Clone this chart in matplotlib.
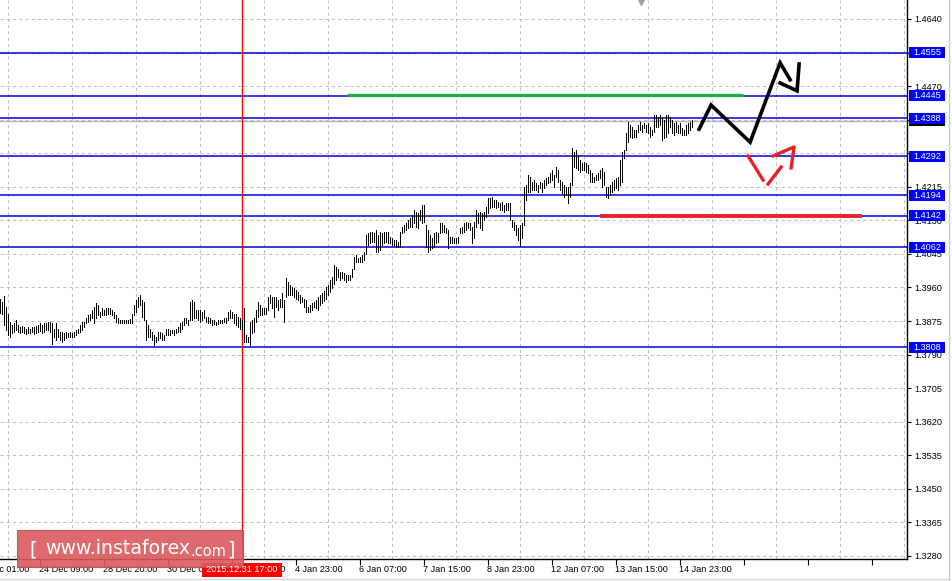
import numpy as np
import matplotlib
matplotlib.use("Agg")
import matplotlib.pyplot as plt
import matplotlib.transforms as mtransforms
from matplotlib.patches import Rectangle

# Bougies H1 : plus hauts / plus bas en pips (13930 -> 1.3930)
hauts = [
    13930, 13924, 13938, 13911, 13894, 13873, 13865, 13869, 13877, 13865,
    13860, 13862, 13859, 13856, 13859, 13856, 13860, 13859, 13862, 13865,
    13869, 13865, 13869, 13871, 13873, 13873, 13869, 13856, 13869, 13856,
    13848, 13848, 13844, 13848, 13844, 13848, 13844, 13848, 13852, 13856,
    13865, 13873, 13873, 13882, 13890, 13894, 13903, 13911, 13920, 13915,
    13898, 13907, 13903, 13907, 13907, 13907, 13903, 13898, 13890, 13882,
    13877, 13877, 13877, 13877, 13877, 13879, 13894, 13915, 13928, 13936,
    13941, 13928, 13924, 13877, 13865, 13856, 13848, 13839, 13835, 13848,
    13848, 13844, 13839, 13856, 13856, 13852, 13852, 13852, 13856, 13860,
    13869, 13873, 13882, 13882, 13877, 13924, 13928, 13924, 13903, 13903,
    13903, 13898, 13903, 13886, 13886, 13882, 13877, 13877, 13873, 13877,
    13877, 13877, 13882, 13882, 13898, 13903, 13898, 13894, 13894, 13886,
    13882, 13877, 13907, 13839, 13835, 13873, 13877, 13882, 13903, 13924,
    13915, 13907, 13907, 13907, 13936, 13941, 13936, 13936, 13936, 13928,
    13932, 13945, 13928, 13983, 13974, 13966, 13962, 13958, 13953, 13949,
    13941, 13936, 13932, 13928, 13911, 13915, 13920, 13924, 13928, 13936,
    13940, 13945, 13950, 13960, 13965,
    13979, 13987, 14017, 14012, 14008, 14000, 14000, 13996, 13991, 13991,
    13991, 14008, 14038, 14042, 14034, 14038, 14042, 14050, 14093, 14097,
    14101, 14101, 14097, 14105, 14093, 14101, 14097, 14101, 14101, 14101,
    14088, 14084, 14080, 14080, 14076, 14101, 14114, 14118, 14122, 14131,
    14135, 14143, 14156, 14152, 14148, 14156, 14169, 14169, 14118, 14105,
    14093, 14084, 14097, 14101, 14097, 14122, 14122, 14118, 14110, 14105,
    14088, 14088, 14084, 14084, 14088, 14110, 14114, 14122, 14126, 14122,
    14122, 14114, 14126, 14156, 14148, 14152, 14148, 14152, 14164, 14186,
    14186, 14190, 14181, 14181, 14177, 14173, 14177, 14169, 14173, 14173,
    14173,
    14131, 14127, 14118, 14110, 14118, 14123, 14215, 14220, 14245, 14241,
    14228, 14232, 14224, 14220, 14228, 14224, 14232, 14237, 14241, 14249,
    14258, 14245, 14266, 14258, 14232, 14228, 14220, 14215, 14215, 14224,
    14313, 14304, 14308, 14296, 14283, 14275, 14279, 14275, 14270, 14258,
    14249, 14241, 14245, 14249, 14258, 14262, 14253, 14215, 14215, 14220,
    14228, 14232, 14237, 14241, 14283, 14304, 14308, 14351, 14380, 14372,
    14367, 14359, 14359, 14372, 14380, 14372, 14376, 14372, 14376, 14367,
    14359, 14397, 14397, 14393, 14397, 14389, 14384, 14397, 14397, 14393,
    14384, 14376, 14380, 14372, 14376, 14363, 14359, 14372, 14376, 14380, 14384,
]
bas = [
    13896, 13894, 13865, 13852, 13839, 13835, 13844, 13848, 13852, 13848,
    13845, 13848, 13844, 13842, 13845, 13844, 13848, 13842, 13845, 13848,
    13850, 13844, 13848, 13852, 13852, 13848, 13818, 13835, 13827, 13835,
    13827, 13822, 13827, 13831, 13835, 13835, 13835, 13835, 13839, 13844,
    13848, 13852, 13860, 13869, 13873, 13877, 13882, 13869, 13882, 13890,
    13886, 13890, 13890, 13890, 13894, 13894, 13890, 13882, 13873, 13869,
    13869, 13869, 13869, 13869, 13869, 13869, 13869, 13890, 13898, 13911,
    13915, 13886, 13877, 13827, 13835, 13835, 13827, 13814, 13822, 13827,
    13831, 13827, 13827, 13839, 13839, 13839, 13844, 13839, 13844, 13848,
    13848, 13856, 13865, 13869, 13865, 13877, 13877, 13882, 13882, 13877,
    13873, 13877, 13882, 13873, 13869, 13869, 13865, 13867, 13865, 13867,
    13869, 13869, 13873, 13871, 13877, 13882, 13882, 13869, 13865, 13860,
    13856, 13852, 13822, 13822, 13822, 13814, 13844, 13848, 13873, 13886,
    13890, 13890, 13894, 13894, 13903, 13920, 13907, 13886, 13911, 13903,
    13911, 13911, 13873, 13936, 13941, 13941, 13941, 13936, 13932, 13928,
    13920, 13924, 13911, 13898, 13898, 13898, 13903, 13911, 13907, 13903,
    13915, 13920, 13925, 13930, 13940,
    13949, 13958, 13970, 13979, 13987, 13979, 13983, 13979, 13974, 13979,
    13979, 13987, 14008, 14025, 14025, 14025, 14025, 14029, 14046, 14067,
    14072, 14076, 14076, 14050, 14050, 14055, 14067, 14072, 14076, 14072,
    14072, 14067, 14067, 14063, 14063, 14063, 14097, 14101, 14105, 14110,
    14114, 14114, 14122, 14114, 14110, 14131, 14122, 14126, 14063, 14050,
    14055, 14059, 14063, 14072, 14076, 14097, 14101, 14101, 14097, 14059,
    14072, 14072, 14072, 14072, 14072, 14097, 14097, 14101, 14105, 14110,
    14105, 14072, 14084, 14114, 14122, 14110, 14105, 14131, 14139, 14148,
    14160, 14164, 14164, 14160, 14164, 14156, 14156, 14152, 14156, 14156,
    14131,
    14114, 14106, 14093, 14080, 14064, 14085, 14118, 14182, 14203, 14203,
    14207, 14207, 14207, 14203, 14211, 14203, 14211, 14220, 14224, 14228,
    14232, 14215, 14241, 14228, 14207, 14199, 14190, 14194, 14173, 14190,
    14220, 14266, 14262, 14258, 14253, 14258, 14258, 14253, 14249, 14228,
    14228, 14228, 14232, 14232, 14237, 14215, 14220, 14190, 14186, 14194,
    14203, 14207, 14211, 14207, 14220, 14228, 14287, 14308, 14329, 14342,
    14338, 14342, 14342, 14355, 14359, 14355, 14363, 14355, 14351, 14342,
    14346, 14355, 14367, 14367, 14372, 14334, 14338, 14342, 14351, 14367,
    14351, 14346, 14355, 14351, 14351, 14346, 14346, 14346, 14351, 14359, 14367,
]

# Niveaux (lignes bleues) et prix courant
niveaux = [1.4555, 1.4445, 1.4388, 1.4292, 1.4194, 1.4142, 1.4062, 1.3808]
prix_actuel = 1.4382

# Graduations (celles cachees sous les etiquettes bleues restent sans texte)
prix_ticks = ["1.3280", "1.3365", "1.3450", "1.3535", "1.3620", "1.3705",
              "1.3790", "1.3875", "1.3960", "1.4045", "1.4130", "1.4215",
              "1.4300", "1.4385", "1.4470", "1.4555", "1.4640"]
prix_caches = ["1.4300", "1.4385", "1.4555"]
dates_ticks = ["23 Dec 01:00", "24 Dec 09:00", "28 Dec 20:00", "30 Dec 04:00",
               "31 Dec 12:00", "4 Jan 23:00", "6 Jan 07:00", "7 Jan 15:00",
               "8 Jan 23:00", "12 Jan 07:00", "13 Jan 15:00", "14 Jan 23:00"]
date_curseur = "2015.12.31 17:00"
bougie_curseur = 121

# Traits dessines a la main : (indice de bougie, prix)
fleche_noire = [(349.4, 1.4361), (355.4, 1.4422), (374.9, 1.4328),
                (389.9, 1.4529), (394.9, 1.4486)]
pointe_noire = [(389.9, 1.4478), (398.4, 1.4458), (399.4, 1.4526)]
traits_rouges = [
    [(373.9, 1.4293), (381.4, 1.4232)],
    [(383.9, 1.4222), (390.4, 1.4265)],
    [(386.4, 1.4293), (396.9, 1.4316), (395.4, 1.4263)],
]
ligne_verte = ((173.4, 371.4), 1.4447)
ligne_rouge = ((299.9, 430.9), 1.4142)
marque_haut = (320.4, 1.4683)

# ---------------------------------------------------------------
W, H = 953, 581
fig = plt.figure(figsize=(W / 100, H / 100), dpi=100)
fig.patch.set_facecolor("white")
ax = fig.add_axes([0, 22 / H, 907 / W, 559 / H])
ax.set_xlim(-0.15, 453.35)
ax.set_ylim(1.32722, 1.46881)

police = "Liberation Sans"
fs = 6.6

# Grille
ax.set_yticks([float(p) for p in prix_ticks])
ax.set_yticklabels(["" if p in prix_caches else p for p in prix_ticks],
                   fontsize=fs, family=police)
ax.yaxis.tick_right()
ax.tick_params(axis="y", length=3, width=0.8, pad=2, colors="black")
ax.set_xticks(np.arange(4, 453, 16), minor=True)
ax.set_xticks(np.arange(20, 453, 32))
ax.set_xticklabels([])
ax.tick_params(axis="x", which="major", length=4, width=0.8)
ax.tick_params(axis="x", which="minor", length=0)
ax.grid(True, axis="y", which="major", color="#c0c0c0", lw=0.75, ls=(0, (3, 3)))
ax.grid(True, axis="x", which="minor", color="#c0c0c0", lw=0.75, ls=(0, (3, 3)))
for c in ["top", "left"]:
    ax.spines[c].set_visible(False)
for c in ["right", "bottom"]:
    ax.spines[c].set_linewidth(1.0)

# Dates (alignees a gauche sur le repere)
tr_x = mtransforms.blended_transform_factory(ax.transData, ax.transAxes)
for pos, lab in zip(np.arange(-12, 341, 32), dates_ticks):
    ax.text(pos - 0.5, -0.018, lab, transform=tr_x, ha="left", va="center",
            fontsize=fs, family=police, clip_on=False)

# Niveaux et prix courant
for niv in niveaux:
    ax.axhline(niv, color="#0000e0", lw=1.1, zorder=2)
ax.axhline(prix_actuel, color="#b4b4b4", lw=1.0, zorder=1.8)
ax.axvline(bougie_curseur, color="#ff0000", lw=1.0, zorder=2)

# Bougies
x = np.arange(len(hauts))
ax.vlines(x, np.array(bas) / 1e4, np.array(hauts) / 1e4, colors="black",
          lw=0.72, antialiased=False, zorder=3)

# Lignes verte / rouge
ax.plot(ligne_verte[0], [ligne_verte[1]] * 2, color="#1fae4c", lw=2.4,
        solid_capstyle="butt", zorder=4)
ax.plot(ligne_rouge[0], [ligne_rouge[1]] * 2, color="#e8202a", lw=2.8,
        solid_capstyle="butt", zorder=4)

# Fleches dessinees
for trait in [fleche_noire, pointe_noire]:
    xs, ys = zip(*trait)
    ax.plot(xs, ys, color="black", lw=2.6, zorder=5, solid_joinstyle="miter")
for trait in traits_rouges:
    xs, ys = zip(*trait)
    ax.plot(xs, ys, color="#e8202a", lw=2.4, zorder=5)
ax.plot(*marque_haut, marker="v", color="#a0a0a0", ms=5, clip_on=False, zorder=5)

# Etiquettes de prix sur l'echelle
tr_y = mtransforms.blended_transform_factory(fig.transFigure, ax.transData)
haut_boite = 11 / 3948
ax.add_patch(Rectangle((909 / W, prix_actuel - haut_boite / 2), 36 / W, haut_boite,
                       transform=tr_y, fc="black", ec="none", clip_on=False, zorder=6))
for niv in niveaux:
    ax.add_patch(Rectangle((909 / W, niv - haut_boite / 2), 36 / W, haut_boite,
                           transform=tr_y, fc="#0000ff", ec="none", clip_on=False, zorder=7))
    ax.text(913 / W, niv, f"{niv:.4f}", transform=tr_y, ha="left", va="center",
            color="white", fontsize=fs, family=police, clip_on=False, zorder=8)

# Bord droit de la fenetre
fig.add_artist(plt.Line2D([949 / W, 949 / W], [0, 1], color="#c8c8c8", lw=1.0))
fig.add_artist(plt.Line2D([0, 949 / W], [2 / H, 2 / H], color="#d8d8d8", lw=1.0))

# Curseur de date
fig.add_artist(Rectangle((202 / W, 1 - 577 / H), 80 / W, 14 / H,
                         transform=fig.transFigure, fc="#ff0000", ec="none", zorder=5))
fig.text(242 / W, 1 - 570 / H, date_curseur, ha="center", va="center",
         color="white", fontsize=fs, family=police, zorder=6)

# Filigrane
fig.add_artist(Rectangle((17 / W, 1 - 567 / H), 226 / W, 37 / H,
                         transform=fig.transFigure, fc="#dc5a5e", ec="#c04a4e",
                         lw=0.8, alpha=0.9, zorder=5))
fig.text(29 / W, 1 - 550 / H, "[", color="white", fontsize=14, family="DejaVu Sans",
         ha="left", va="center", zorder=6)
fig.text(45 / W, 1 - 549 / H, "www.instaforex", color="white", fontsize=13.6,
         family="DejaVu Sans", ha="left", va="center", zorder=6)
fig.text(190 / W, 1 - 551 / H, ".com", color="white", fontsize=10.5,
         family="DejaVu Sans", ha="left", va="center", zorder=6)
fig.text(227 / W, 1 - 550 / H, "]", color="white", fontsize=14, family="DejaVu Sans",
         ha="left", va="center", zorder=6)

fig.savefig("out.png", dpi=100)
